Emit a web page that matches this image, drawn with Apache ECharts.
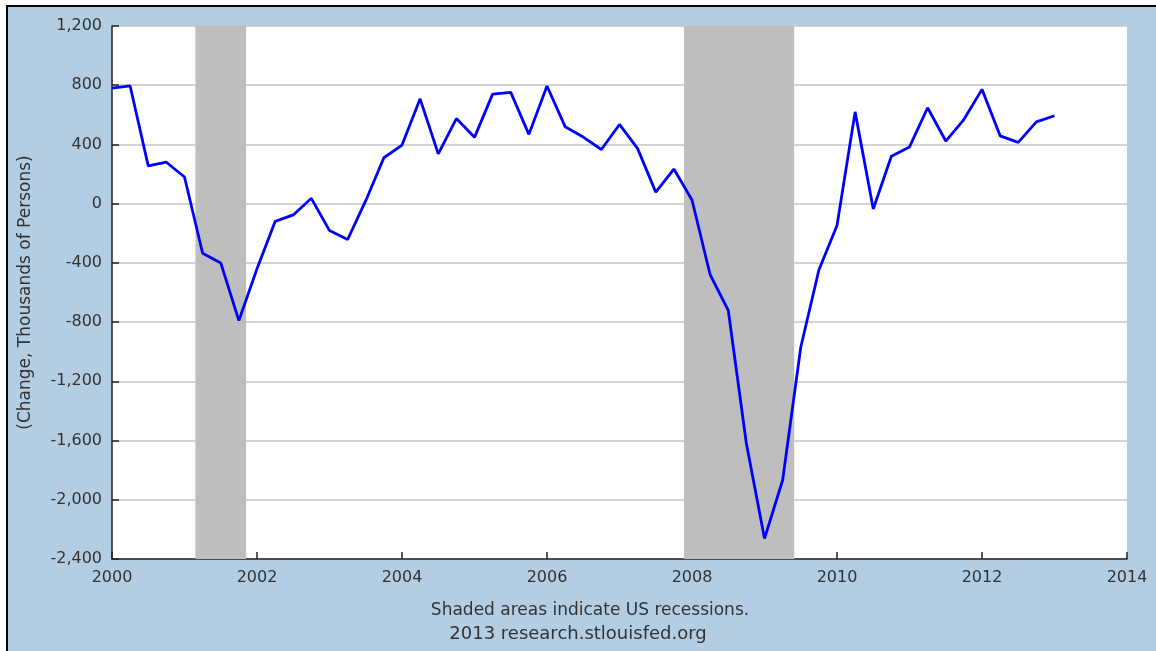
<!DOCTYPE html>
<html>
<head>
<meta charset="utf-8">
<title>Change in Employment</title>
<script src="https://cdn.jsdelivr.net/npm/echarts@6/dist/echarts.min.js"></script>
<style>
  html, body { margin: 0; padding: 0; background: #fff; }
  #chart { width: 1156px; height: 651px; }
</style>
</head>
<body>
<div id="chart"></div>
<script>
// quarterly change, thousands of persons, 2000Q1 .. 2013Q1
const startYear = 2000;
const values = [
    780, 795, 255, 280,
    180, -335, -400, -790,
    -440, -120, -76, 36,
    -182, -242, 20, 310,
    396, 708, 336, 575,
    448, 740, 752, 468,
    795, 520, 450, 366,
    535, 372, 78, 234,
    25, -480, -720, -1620,
    -2262, -1868, -970, -448,
    -148, 620, -36, 320,
    383, 648, 423, 568,
    772, 458, 414, 552,
    594
];

// recession bands (decimal years)
const recessionStarts = [2001.15, 2007.89];
const recessionEnds = [2001.85, 2009.41];

const yTicks = { min: -2400, max: 1200, step: 400 };
const xTicks = { min: 2000, max: 2014, step: 2 };

const footerLines = ['Shaded areas indicate US recessions.', '2013 research.stlouisfed.org'];

const chart = echarts.init(document.getElementById('chart'));

const seriesData = values.map((v, i) => [startYear + i * 0.25, v]);
const bands = recessionStarts.map((s, i) => [{ xAxis: s }, { xAxis: recessionEnds[i] }]);

const font = 'DejaVu Sans';

const option = {
    backgroundColor: '#b3cde3',
    animation: false,
    grid: {
        left: 112, right: 29, top: 26, bottom: 92,
        show: true,
        backgroundColor: '#ffffff',
        borderWidth: 0
    },
    xAxis: {
        type: 'value',
        min: xTicks.min,
        max: xTicks.max,
        interval: xTicks.step,
        axisLine: { show: true, onZero: false, lineStyle: { color: '#222', width: 1.5 } },
        axisTick: { show: true, inside: true, length: 7, lineStyle: { color: '#222', width: 1.5 } },
        splitLine: { show: false },
        axisLabel: {
            color: '#333',
            fontFamily: font,
            fontSize: 16,
            margin: 11,
            formatter: v => String(v)
        }
    },
    yAxis: {
        type: 'value',
        min: yTicks.min,
        max: yTicks.max,
        interval: yTicks.step,
        name: '(Change, Thousands of Persons)',
        nameLocation: 'middle',
        nameRotate: 90,
        nameGap: 78,
        nameTextStyle: { color: '#333', fontFamily: font, fontSize: 17 },
        axisLine: { show: true, lineStyle: { color: '#222', width: 1.5 } },
        axisTick: { show: true, inside: true, length: 7, lineStyle: { color: '#222', width: 1.5 } },
        splitLine: { show: true, lineStyle: { color: '#c6c6c6', width: 1.5 } },
        axisLabel: {
            color: '#333',
            fontFamily: font,
            fontSize: 16,
            margin: 10,
            formatter: v => v.toLocaleString('en-US')
        }
    },
    series: [{
        type: 'line',
        data: seriesData,
        symbol: 'none',
        lineStyle: { color: '#0000ff', width: 2.8 },
        markArea: {
            silent: true,
            itemStyle: { color: '#bebebe', opacity: 1 },
            data: bands
        },
        z: 3
    }],
    graphic: [
        // white margin and black frame at top and left
        { type: 'rect', shape: { x: 0, y: 0, width: 1156, height: 5 }, style: { fill: '#fff' } },
        { type: 'rect', shape: { x: 0, y: 0, width: 6, height: 651 }, style: { fill: '#fff' } },
        { type: 'rect', shape: { x: 6, y: 5, width: 1150, height: 2 }, style: { fill: '#000' } },
        { type: 'rect', shape: { x: 6, y: 5, width: 2, height: 646 }, style: { fill: '#000' } },
        {
            type: 'text', x: 590, y: 611,
            style: { text: footerLines[0], fill: '#333', font: '17px "DejaVu Sans"', textAlign: 'center', textVerticalAlign: 'middle' }
        },
        {
            type: 'text', x: 578, y: 634,
            style: { text: footerLines[1], fill: '#333', font: '18px "DejaVu Sans"', textAlign: 'center', textVerticalAlign: 'middle' }
        }
    ]
};

chart.setOption(option);
</script>
</body>
</html>
